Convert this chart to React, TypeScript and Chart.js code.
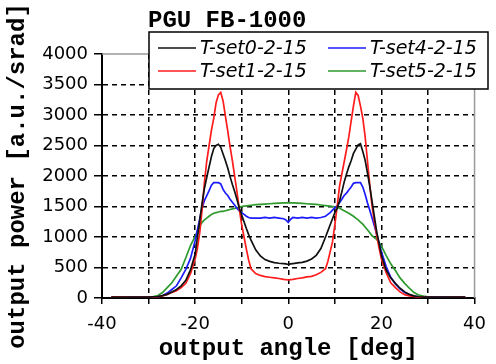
import { useEffect, useRef } from 'react';
import { Chart, registerables } from 'chart.js';

Chart.register(...registerables);

const chartTitle = 'PGU FB-1000';
const xTitle = 'output angle [deg]';
const yTitle = 'output power [a.u./srad]';
const xTickLabels = ['-40', '-20', '0', '20', '40'];
const seriesNames = ['T-set0-2-15', 'T-set1-2-15', 'T-set4-2-15', 'T-set5-2-15'];

const angles = [
  -38, -36, -34, -32, -30, -29, -28, -27, -26, -25, -24, -23, -22, -21, -20,
  -19.5, -19, -18.5, -18, -17.5, -17, -16.5, -16, -15.5, -15, -14.5, -14, -13.5, -13, -12.5, -12, -11.5, -11, -10.5, -10, -9.5, -9, -8.5, -8,
  -7, -6, -5, -4, -3, -2, -1,
  -0.5, 0, 0.5,
  1, 2, 3, 4, 5, 6, 7,
  8, 8.5, 9, 9.5, 10, 10.5, 11, 11.5, 12, 12.5, 13, 13.5, 14, 14.5, 15, 15.5, 16, 16.5, 17, 17.5, 18, 18.5, 19, 19.5,
  20, 21, 22, 23, 24, 25, 26, 27, 28, 29, 30, 32, 34, 36, 38,
];

const tset0 = [
  15, 15, 15, 15, 15, 20, 25, 40, 60, 100, 140, 200, 290, 460, 720,
  1000, 1280, 1560, 1800, 1980, 2150, 2320, 2450, 2500, 2520, 2470, 2360, 2250, 2130, 1990, 1860, 1740, 1610, 1470, 1360, 1250, 1140, 1040, 950,
  790, 690, 630, 600, 580, 570, 565,
  560, 550, 560,
  565, 575, 585, 605, 640, 700, 810,
  1000, 1100, 1200, 1300, 1400, 1470, 1590, 1740, 1900, 2030, 2150, 2250, 2370, 2440, 2510, 2530, 2400, 2260, 2050, 1830, 1580, 1330, 1080, 900,
  700, 460, 330, 240, 160, 100, 60, 35, 20, 15, 15, 15, 15, 15, 15,
];

const tset1 = [
  20, 20, 15, 15, 15, 15, 20, 35, 60, 90, 120, 170, 240, 400, 640,
  820, 1080, 1450, 1900, 2250, 2500, 2750, 2950, 3200, 3330, 3370, 3230, 2980, 2740, 2480, 2250, 1990, 1730, 1450, 1200, 1000, 800, 620, 480,
  400, 370, 350, 340, 330, 320, 305,
  300, 295, 300,
  305, 320, 330, 345, 355, 380, 420,
  480, 600, 760, 920, 1200, 1500, 1830, 2030, 2230, 2430, 2640, 2900, 3150, 3370, 3320, 3150, 2950, 2650, 2250, 1850, 1500, 1250, 1020, 820,
  640, 420, 250, 170, 100, 55, 35, 25, 15, 15, 10, 10, 10, 15, 15,
];

const tset4 = [
  15, 15, 15, 15, 15, 15, 20, 40, 80, 140, 200, 330, 470, 650, 940,
  1120, 1300, 1480, 1600, 1680, 1760, 1850, 1890, 1890, 1890, 1870, 1780, 1720, 1680, 1620, 1570, 1520, 1470, 1430, 1400, 1370, 1340, 1320, 1310,
  1310, 1310, 1320, 1310, 1320, 1310, 1300,
  1280, 1240, 1290,
  1320, 1310, 1320, 1310, 1320, 1310, 1320,
  1340, 1370, 1400, 1440, 1480, 1510, 1560, 1620, 1680, 1720, 1770, 1820, 1880, 1890, 1890, 1890, 1820, 1700, 1560, 1440, 1310, 1180, 1040, 900,
  760, 520, 340, 230, 150, 90, 50, 30, 20, 15, 15, 15, 15, 15, 15,
];

const tset5 = [
  15, 15, 15, 15, 20, 25, 40, 90, 170, 250, 360, 470, 660, 860, 1010,
  1100, 1180, 1240, 1280, 1310, 1340, 1370, 1390, 1400, 1410, 1420, 1420, 1430, 1440, 1450, 1460, 1470, 1480, 1490, 1500, 1505, 1510, 1515, 1520,
  1530, 1535, 1540, 1545, 1550, 1555, 1560,
  1560, 1565, 1560,
  1560, 1555, 1550, 1545, 1540, 1535, 1525,
  1515, 1510, 1505, 1500, 1495, 1490, 1470, 1450, 1430, 1410, 1390, 1365, 1340, 1310, 1280, 1245, 1210, 1165, 1120, 1070, 1020, 990, 960, 910,
  850, 700, 560, 450, 330, 240, 160, 90, 50, 30, 20, 15, 15, 15, 15,
];

const seriesValues = [tset0, tset1, tset4, tset5];
const seriesColors = ['#111111', '#ff1c1c', '#1c1cff', '#2e9a2e'];

// legend layout: [series index, column, row]
const legendLayout = [
  [0, 0, 0],
  [2, 1, 0],
  [1, 0, 1],
  [3, 1, 1],
];

const overlayPlugin = {
  id: 'overlay',
  afterDraw(chart: any) {
    const { ctx, chartArea: a } = chart;
    ctx.save();
    ctx.strokeStyle = '#9a9a9a';
    ctx.lineWidth = 1.5;
    ctx.setLineDash([]);
    ctx.beginPath();
    ctx.moveTo(a.left, a.top);
    ctx.lineTo(a.right, a.top);
    ctx.lineTo(a.right, a.bottom);
    ctx.stroke();

    ctx.fillStyle = '#000';
    ctx.font = 'bold 24px "Liberation Mono"';
    ctx.textAlign = 'left';
    ctx.textBaseline = 'alphabetic';
    ctx.fillText(chartTitle, 148, 27);

    const bx = 149, by = 32, bw = 339, bh = 57;
    ctx.fillStyle = '#fff';
    ctx.fillRect(bx, by, bw, bh);
    ctx.strokeStyle = '#000';
    ctx.lineWidth = 1.5;
    ctx.strokeRect(bx, by, bw, bh);

    const colX = [158, 328];
    const rowY = [48, 71];
    ctx.font = 'italic 19px "DejaVu Sans"';
    ctx.textBaseline = 'middle';
    legendLayout.forEach(([si, c, r]) => {
      const x = colX[c];
      const y = rowY[r];
      ctx.strokeStyle = seriesColors[si];
      ctx.lineWidth = 1.6;
      ctx.beginPath();
      ctx.moveTo(x, y);
      ctx.lineTo(x + 38, y);
      ctx.stroke();
      ctx.fillStyle = '#000';
      ctx.fillText(seriesNames[si], x + 42, y + 1);
    });
    ctx.restore();
  },
};

export default function App() {
  const ref = useRef<HTMLCanvasElement | null>(null);

  useEffect(() => {
    if (!ref.current) return;
    const datasets = seriesValues.map((vals, si) => ({
      label: seriesNames[si],
      data: angles.map((x, i) => ({ x, y: vals[i] })),
      borderColor: seriesColors[si],
      backgroundColor: seriesColors[si],
      borderWidth: 1.7,
      pointRadius: 0,
      tension: 0,
      fill: false,
    }));
    const gridColor = (edgeA: number, edgeB: number) => (ctx: any) =>
      ctx.tick && (ctx.tick.value === edgeA || ctx.tick.value === edgeB) ? 'rgba(0,0,0,0)' : '#000';

    const chart = new Chart(ref.current, {
      type: 'line',
      data: { datasets },
      plugins: [overlayPlugin],
      options: {
        animation: false,
        responsive: false,
        events: [],
        layout: { padding: { top: 54, right: 19, left: 0, bottom: 0 } },
        plugins: {
          legend: { display: false },
          title: { display: false },
          tooltip: { enabled: false },
        },
        scales: {
          x: {
            type: 'linear',
            min: -40,
            max: 40,
            afterFit: (s: any) => { s.height = 66; },
            ticks: {
              stepSize: 10,
              autoSkip: false,
              maxRotation: 0,
              color: '#000',
              padding: 10,
              font: { family: 'DejaVu Sans', size: 18 },
              callback: (v: any) => (xTickLabels.includes(String(v)) ? String(v) : ''),
            },
            grid: {
              color: gridColor(-40, 40),
              lineWidth: 1.5,
              tickColor: '#000',
              tickLength: 6,
              tickWidth: 1.5,
            },
            border: { color: '#000', width: 2, dash: [5, 4] },
            title: {
              display: true,
              text: xTitle,
              color: '#000',
              font: { family: 'Liberation Mono', size: 24, weight: 'bold' },
              padding: { top: 0, bottom: 1 },
            },
          },
          y: {
            min: 0,
            max: 4000,
            afterFit: (s: any) => { s.width = 102; },
            ticks: {
              stepSize: 500,
              color: '#000',
              padding: 6,
              font: { family: 'DejaVu Sans', size: 18 },
              callback: (v: any) => String(v),
            },
            grid: {
              color: gridColor(0, 4000),
              lineWidth: 1.5,
              tickColor: '#000',
              tickLength: 8,
              tickWidth: 1.5,
            },
            border: { color: '#000', width: 2, dash: [5, 4] },
            title: {
              display: true,
              text: yTitle,
              color: '#000',
              font: { family: 'Liberation Mono', size: 24, weight: 'bold' },
              padding: { top: 4, bottom: 0 },
            },
          },
        },
      },
    } as any);
    return () => chart.destroy();
  }, []);

  return (
    <div style={{ position: 'absolute', left: 0, top: 0, width: 496, height: 364, background: '#fff' }}>
      <canvas ref={ref} width={496} height={364} />
    </div>
  );
}
